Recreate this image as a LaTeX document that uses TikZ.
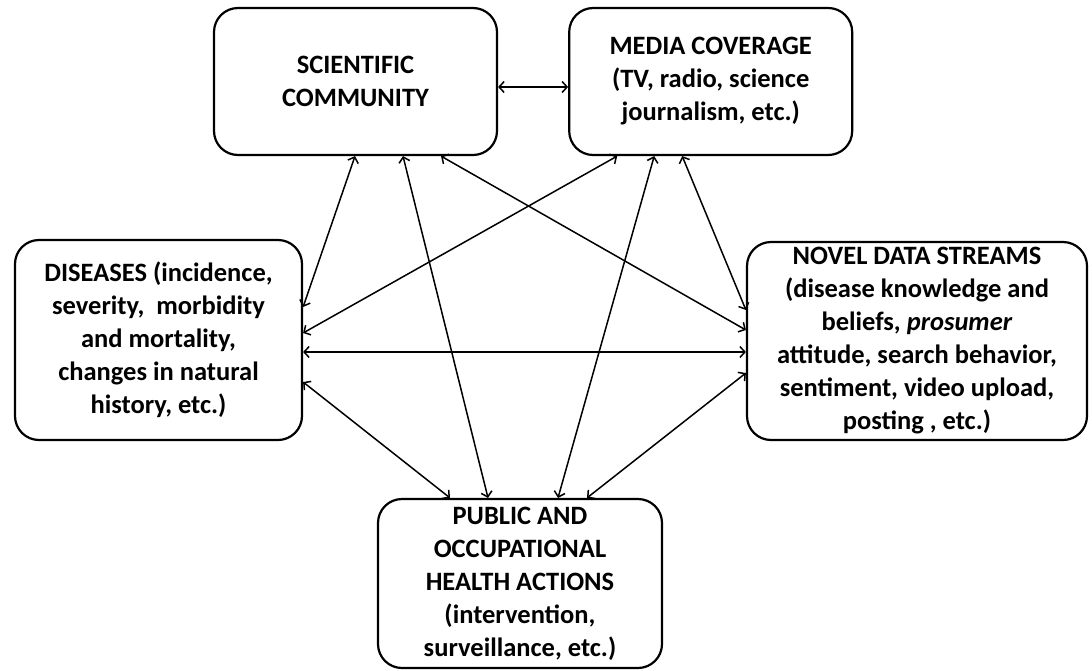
\documentclass[tikz,border=0pt]{standalone}
\usepackage{fontspec}
\setmainfont{Carlito}
\usetikzlibrary{arrows.meta, positioning}

\begin{document}
\begin{tikzpicture}[
  x=1pt, y=-1pt,
    every node/.style={font=\fontsize{26.5}{33}\selectfont\bfseries},
    block/.style={rectangle, rounded corners=24pt, align=center, draw=black, line width=2.2pt, fill=white, inner sep=0pt},
    arrow/.style={line width=1.5pt, <->, >={Straight Barb[length=5pt,width=11pt]}}
]
\useasboundingbox (0,0) rectangle (1092,670);

% Top row
\node (sci) [block, minimum width=283pt, minimum height=147pt] at (355.5,81.5) {SCIENTIFIC\\COMMUNITY};
\node (media) [block, minimum width=283pt, minimum height=147pt, right=70pt of sci] {MEDIA COVERAGE\\(TV, radio, science\\journalism, etc.)};

% Middle row
\node (disease) [block, minimum width=287pt, minimum height=200pt] at (158.5,340) {DISEASES (incidence,\\severity,\ \ morbidity\\and mortality,\\changes in natural\\history, etc.)};
\node (streams) [block, minimum width=340pt, minimum height=198pt] at (917,341) {NOVEL DATA STREAMS\\(disease knowledge and\\beliefs, \textit{prosumer}\\attitude, search behavior,\\sentiment, video upload,\\posting , etc.)};

% Bottom
\node (health) [block, minimum width=284pt, minimum height=169pt] at (520,583.5) {PUBLIC AND\\OCCUPATIONAL\\HEALTH ACTIONS\\(intervention,\\surveillance, etc.)};

% Arrows - from the top row
\draw [arrow] ([yshift=-5.5pt]sci.east) -- ([yshift=-5.5pt]media.west);
\draw [arrow] ([xshift=-0.5pt]sci.south) -- ([yshift=33pt]disease.east);
\draw [arrow] ([xshift=47.5pt]sci.south) -- ([xshift=-32pt]health.north);
\draw [arrow] ([xshift=85.5pt]sci.south) -- ([yshift=11pt]streams.west);
\draw [arrow] ([xshift=-93.5pt]media.south) -- ([yshift=7pt]disease.east);
\draw [arrow] ([xshift=-56.5pt]media.south) -- ([xshift=38pt]health.north);
\draw [arrow] ([xshift=-28.5pt]media.south) -- ([yshift=31pt]streams.west);

% Arrows - middle and bottom
\draw [arrow] ([yshift=-12pt]disease.east) -- ([yshift=-11pt]streams.west);
\draw [arrow] ([yshift=-42pt]disease.east) -- ([xshift=-70pt]health.north);
\draw [arrow] ([yshift=-32pt]streams.west) -- ([xshift=67pt]health.north);

\end{tikzpicture}
\end{document}
